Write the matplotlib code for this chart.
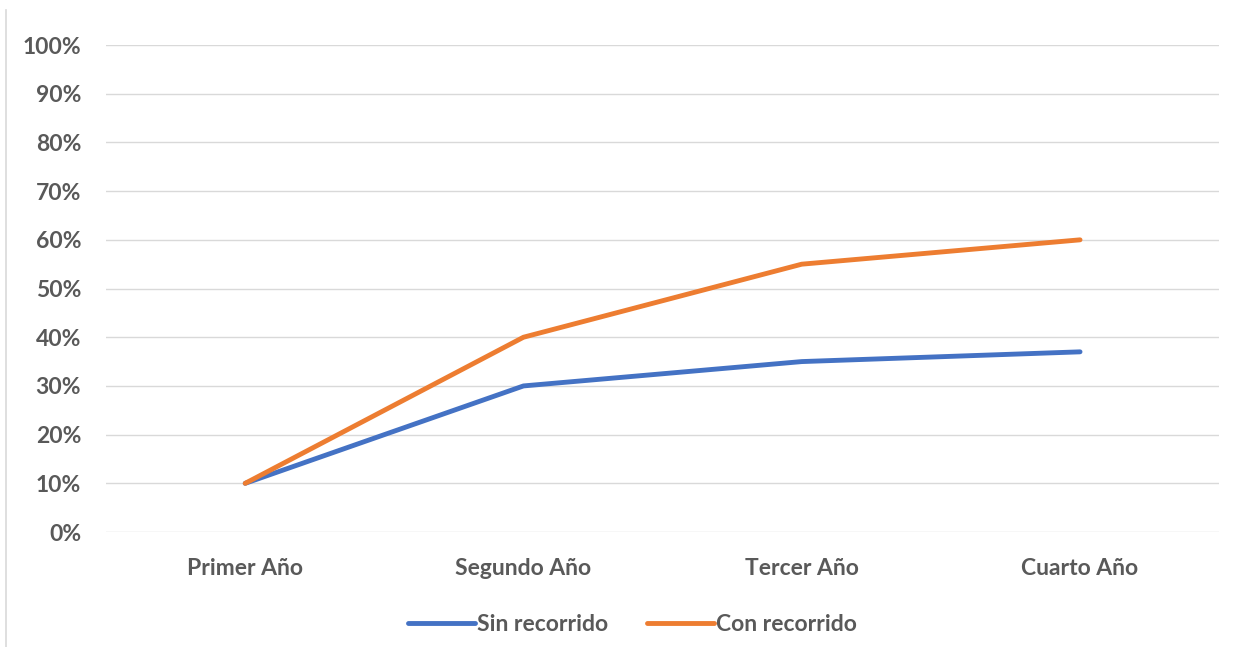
import matplotlib.pyplot as plt
from matplotlib.lines import Line2D

# Données
annees = ['Primer Año', 'Segundo Año', 'Tercer Año', 'Cuarto Año']
sin_recorrido = [10, 30, 35, 37]
con_recorrido = [10, 40, 55, 60]
y_ticks = list(range(0, 101, 10))

plt.rcParams['font.family'] = ['Lato', 'DejaVu Sans']
gris = '#595959'

fig = plt.figure(figsize=(12.39, 6.47), dpi=100)
ax = fig.add_axes([0.0856, 0.1777, 0.8984, 0.7527])

x = range(len(annees))
ax.plot(x, sin_recorrido, color='#4472C4', lw=3.5, solid_capstyle='round', label='Sin recorrido')
ax.plot(x, con_recorrido, color='#ED7D31', lw=3.5, solid_capstyle='round', label='Con recorrido')

ax.set_xlim(-0.5, 3.5)
ax.set_ylim(0, 100)
ax.set_yticks(y_ticks)
ax.set_yticklabels([f'{v}%' for v in y_ticks])
ax.set_xticks(list(x))
ax.set_xticklabels(annees)
ax.grid(axis='y', color='#D9D9D9', lw=1)
ax.set_axisbelow(True)
for s in ax.spines.values():
    s.set_visible(False)
ax.tick_params(length=0, labelsize=16.5, labelcolor=gris)
ax.tick_params(axis='y', pad=18)
ax.tick_params(axis='x', pad=19)
for lab in ax.get_xticklabels() + ax.get_yticklabels():
    lab.set_fontweight('bold')

leg = ax.legend(loc='center', bbox_to_anchor=(0.473, -0.19), ncol=2, frameon=False,
                handlelength=2.9, handletextpad=0.1, columnspacing=1.7,
                prop={'size': 16.5, 'weight': 'bold'})
for t in leg.get_texts():
    t.set_color(gris)

# bordure gauche du cadre
fig.add_artist(Line2D([6/1239, 6/1239], [0, 1 - 10/647], transform=fig.transFigure,
                      color='#D9D9D9', lw=1.2))

fig.savefig('out.png', dpi=100)
